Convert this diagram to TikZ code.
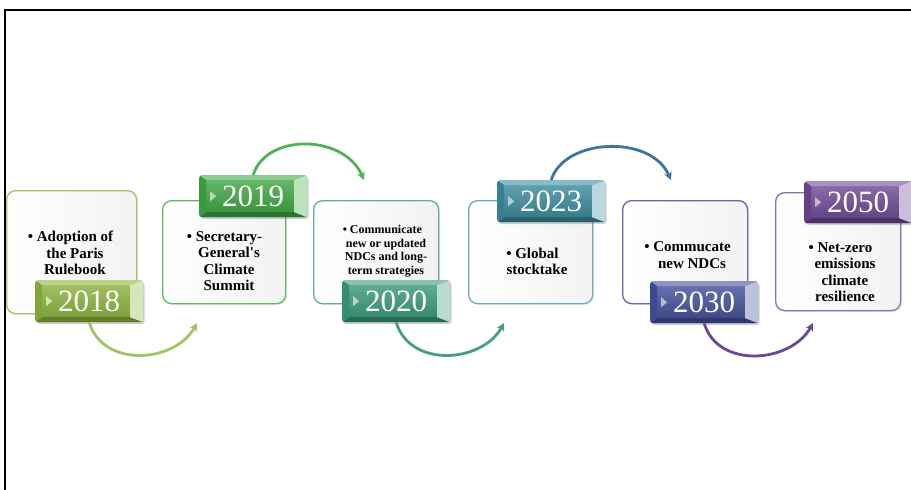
\documentclass[tikz,border=0pt]{standalone}
\usepackage{fontspec}
\setmainfont{Liberation Serif}[Ligatures=TeXOff]
\usetikzlibrary{arrows.meta,shadows,calc}

% palette
\definecolor{cA}{HTML}{8DB43E}
\definecolor{cB}{HTML}{3EA844}
\definecolor{cC}{HTML}{3A9B78}
\definecolor{cD}{HTML}{3A8C9E}
\definecolor{cE}{HTML}{434F9C}
\definecolor{cF}{HTML}{6E4894}
\definecolor{lA}{HTML}{A4C064}
\definecolor{lB}{HTML}{62B866}
\definecolor{lC}{HTML}{5DB290}
\definecolor{lD}{HTML}{6FA9BC}
\definecolor{lE}{HTML}{6069AC}
\definecolor{lF}{HTML}{8D6FB0}

\tikzset{
  infobox/.style={draw=#1, line width=1.3pt, rounded corners=9pt,
    left color=white, right color=black!5, anchor=north west,
    inner sep=0pt, minimum width=125pt, minimum height=103pt,
    drop shadow={opacity=0.12, shadow xshift=1.5pt, shadow yshift=-1.5pt}},
  infotext/.style={align=center, inner sep=0pt,
    font=\bfseries\fontsize{15}{16.5}\selectfont},
  badge/.style={anchor=north west, minimum width=108pt, minimum height=42pt,
    inner sep=0pt, rounded corners=3pt,
    top color=#1!78!white, bottom color=#1!85!black,
    text=white, font=\fontsize{31}{31}\selectfont,
    drop shadow={opacity=0.35, shadow xshift=1.5pt, shadow yshift=-2pt},
    path picture={
      % top bevel
      \fill[#1!60!white, sharp corners]
        (path picture bounding box.north west) --
        (path picture bounding box.north east) --
        ([xshift=-13pt,yshift=-5pt]path picture bounding box.north east) --
        ([xshift=7pt,yshift=-5pt]path picture bounding box.north west) -- cycle;
      % bottom bevel
      \fill[#1!70!black, sharp corners]
        (path picture bounding box.south west) --
        (path picture bounding box.south east) --
        ([xshift=-13pt,yshift=5pt]path picture bounding box.south east) --
        ([xshift=7pt,yshift=5pt]path picture bounding box.south west) -- cycle;
      % left bevel
      \fill[#1!92!black, sharp corners]
        (path picture bounding box.north west) --
        ([xshift=7pt,yshift=-5pt]path picture bounding box.north west) --
        ([xshift=7pt,yshift=5pt]path picture bounding box.south west) --
        (path picture bounding box.south west) -- cycle;
      % right highlight
      \fill[#1!35!white, sharp corners]
        (path picture bounding box.north east) --
        ([xshift=-13pt,yshift=-5pt]path picture bounding box.north east) --
        ([xshift=-13pt,yshift=5pt]path picture bounding box.south east) --
        (path picture bounding box.south east) -- cycle;
      % small pointer
      \fill[#1!40!white, sharp corners]
        ([xshift=11pt,yshift=5pt]path picture bounding box.west) --
        ([xshift=17pt]path picture bounding box.west) --
        ([xshift=11pt,yshift=-5pt]path picture bounding box.west) -- cycle;
    }},
  link/.style={draw=#1, line width=2.8pt,
    -{Stealth[length=8pt,width=8pt]}},
}

\begin{document}
\begin{tikzpicture}[x=1pt,y=-1pt]
\useasboundingbox (0,0) rectangle (911,490);
\fill[white] (0,0) rectangle (911,490);

% frame
\draw[line width=1.4pt] (5,490) -- (5,10) -- (911,10);

% text panels
\node[infobox=lA, minimum width=130pt, minimum height=123pt] (box1) at (6,190) {};
\node[infobox=lB, minimum width=123pt] (box2) at (162,200) {};
\node[infobox=lC] (box3) at (313,200) {};
\node[infobox=lD, minimum width=124pt] (box4) at (468,200) {};
\node[infobox=lE] (box5) at (622,200) {};
\node[infobox=lF, minimum height=118pt] (box6) at (775,192) {};

\node[infotext] (t1) at (75,253) {\llap{•\ }Adoption of\\the Paris\\Rulebook};
\node[infotext] (t2) at (229,261) {\llap{•\ }Secretary-\\General's\\Climate\\Summit};
\node[infotext, font=\bfseries\fontsize{12}{13.6}\selectfont] (t3) at (386,251)
  {\llap{•\ }Communicate\\new or updated\\NDCs and long-\\term strategies};
\node[infotext] (t4) at (537,261.5) {\llap{•\ }Global\\stocktake};
\node[infotext] (t5) at (692,255) {\llap{•\ }Commucate\\new NDCs};
\node[infotext] (t6) at (845,272) {\llap{•\ }Net-zero\\emissions\\climate\\resilience};

% year badges
\node[badge=cA] (b18) at (35,280) {2018};
\node[badge=cB] (b19) at (199,175) {2019};
\node[badge=cC] (b20) at (342,280) {2020};
\node[badge=cD] (b23) at (497,180) {2023};
\node[badge=cE] (b30) at (650,281) {2030};
\node[badge=cF] (b50) at (804,181) {2050};

% arrow ends
\coordinate (e1) at (197,323);
\coordinate (e2) at (364,180);
\coordinate (e3) at (504,323);
\coordinate (e4) at (671,180);
\coordinate (e5) at (813,323);

% connecting arcs
\draw[link=cA!80!white] (b18.south) .. controls ($(b18.south)+(14,46)$) and ($(e1)+(-22,40)$) .. (e1);
\draw[link=cB!90!white] (b19.north) .. controls ($(b19.north)+(13,-42)$) and ($(e2)+(-20,-46)$) .. (e2);
\draw[link=cC!95!white] (b20.south) .. controls ($(b20.south)+(14,46)$) and ($(e3)+(-22,40)$) .. (e3);
\draw[link=cD!60!cE] (b23.north) .. controls ($(b23.north)+(13,-42)$) and ($(e4)+(-20,-46)$) .. (e4);
\draw[link=cF!85!cE] (b30.south) .. controls ($(b30.south)+(14,46)$) and ($(e5)+(-22,40)$) .. (e5);
\end{tikzpicture}
\end{document}
